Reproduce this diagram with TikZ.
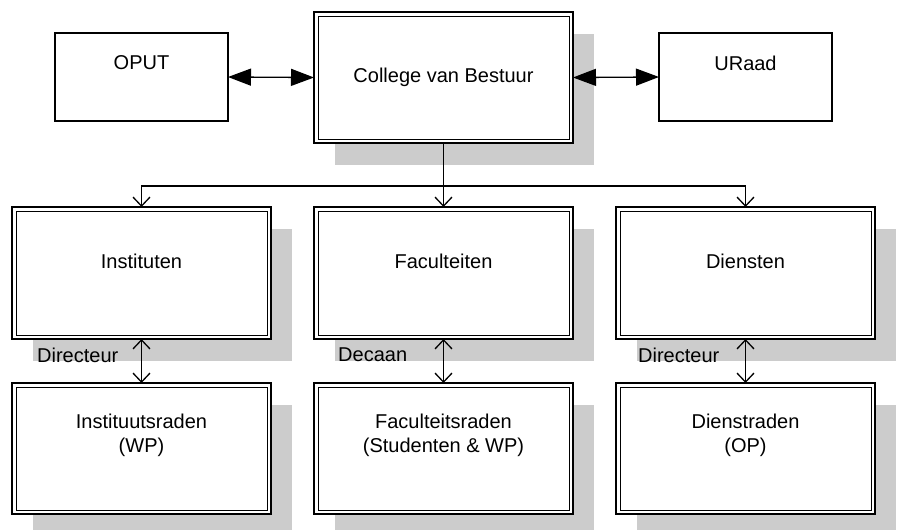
\documentclass[tikz,border=0pt]{standalone}
\usepackage{fontspec}
\setmainfont{Liberation Sans}
\usetikzlibrary{arrows.meta,backgrounds}
\definecolor{shadowgray}{RGB}{204,204,204}
\begin{document}
\begin{tikzpicture}[x=1pt,y=-1pt,
  sbox/.style={draw,line width=1.3pt,fill=white,inner sep=0pt,outer sep=0pt,minimum width=173pt,minimum height=88pt},
  dbox/.style={draw,line width=2pt,fill=white,inner sep=0pt,outer sep=0pt,minimum width=259pt,minimum height=131pt},
  txt/.style={font=\fontsize{20}{24}\selectfont,align=center,inner sep=0pt},
  lbl/.style={font=\fontsize{20}{24}\selectfont,anchor=west,inner sep=0pt},
  conn/.style={line width=1.3pt},
  fat/.style={conn,{Triangle[length=23pt,width=17pt]}-{Triangle[length=23pt,width=17pt]}},
  barb/.style={conn,-{Straight Barb[length=9pt,width=17pt,line width=1.3pt]}},
  dbarb/.style={conn,{Straight Barb[length=9pt,width=17pt,line width=1.3pt]}-{Straight Barb[length=9pt,width=17pt,line width=1.3pt]}}
]
\useasboundingbox (0,0) rectangle (898,530);

% top row
\node[sbox] (oput) at (141.5,77) {};
\node[sbox] (uraad) at (745.5,77) {};
\node[dbox] (cvb) at (443.5,77.5) {};
\node[txt] (toput) at (141.5,63) {OPUT};
\node[txt] (turaad) at (745.5,63) {URaad};
\node[txt] (tcvb) at (443.5,77) {College van Bestuur};

% middle row
\node[dbox,minimum height=132pt] (inst) at (141.5,273) {};
\node[dbox,minimum height=132pt] (fac) at (443.5,273) {};
\node[dbox,minimum height=132pt] (dien) at (745.5,273) {};
\node[txt] (tinst) at (141.5,261) {Instituten};
\node[txt] (tfac) at (443.5,261) {Faculteiten};
\node[txt] (tdien) at (745.5,261) {Diensten};

% bottom row
\node[dbox] (iraad) at (141.5,448.5) {};
\node[dbox] (fraad) at (443.5,448.5) {};
\node[dbox] (draad) at (745.5,448.5) {};
\node[txt] (tiraad) at (141.5,435) {Instituutsraden\\(WP)};
\node[txt] (tfraad) at (443.5,435) {Faculteitsraden\\(Studenten \& WP)};
\node[txt] (tdraad) at (745.5,435) {Dienstraden\\(OP)};

% inner lines of double boxes
\foreach \n in {cvb,inst,fac,dien,iraad,fraad,draad}
  \draw[line width=1pt] ([shift={(4pt,-4pt)}]\n.north west) rectangle ([shift={(-4pt,4pt)}]\n.south east);

% shadows
\begin{scope}[on background layer]
\foreach \n in {cvb,inst,fac,dien,iraad,fraad,draad}
  \fill[shadowgray] ([shift={(21pt,-22pt)}]\n.south west) rectangle ([shift={(21pt,-22pt)}]\n.north east);
\end{scope}

% connectors
\draw[fat] (oput.east) -- (cvb.west);
\draw[fat] (uraad.west) -- (cvb.east);
\coordinate (bus) at (443.5,186);
\draw[conn] (cvb.south) -- (bus);
\draw[barb] (bus) -| (inst.north);
\draw[barb] (bus) -- (fac.north);
\draw[barb] (bus) -| (dien.north);
\draw[dbarb] (inst.south) -- (iraad.north);
\draw[dbarb] (fac.south) -- (fraad.north);
\draw[dbarb] (dien.south) -- (draad.north);

% labels
\node[lbl] (l1) at (37,355) {Directeur};
\node[lbl] (l2) at (338,355) {Decaan};
\node[lbl] (l3) at (638,355) {Directeur};
\end{tikzpicture}
\end{document}
